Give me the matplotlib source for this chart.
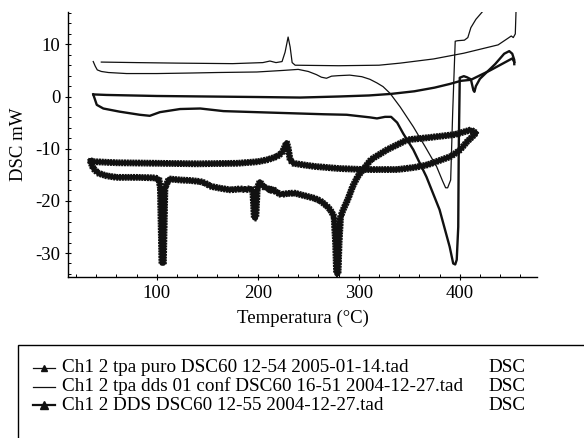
import numpy as np
import matplotlib
matplotlib.use("Agg")
import matplotlib.pyplot as plt
from matplotlib.lines import Line2D
from matplotlib.patches import Rectangle
from matplotlib.ticker import MultipleLocator
import matplotlib.patheffects as pe

plt.rcParams['font.family'] = ['Liberation Serif', 'DejaVu Serif']
plt.rcParams['axes.unicode_minus'] = False

# ---- data: temperature (°C) and DSC signal (mW), each run drawn as two branches ----
# Ch1 2 tpa puro
puro_upper_T = [37, 50, 100, 150, 200, 242, 280, 310, 332, 355, 375, 390, 401, 411, 430, 452, 454]
puro_upper_V = [0.4, 0.3, 0.1, 0.0, -0.1, -0.2, 0.0, 0.2, 0.5, 1.0, 1.7, 2.4, 3.0, 3.2, 5.0, 7.3, 6.6]
puro_lower_T = [37, 40.5, 47, 63, 83, 93, 103, 123, 143, 166, 215, 265, 288, 311, 318, 326, 332,
                338, 344, 354, 367, 380, 390, 393.5, 395.5, 397, 398.5, 399, 400, 404, 407, 411,
                413.5, 414.5, 416, 420, 435, 444, 449, 452, 454, 454]
puro_lower_V = [0.4, -1.6, -2.3, -2.9, -3.5, -3.7, -3.0, -2.4, -2.3, -2.8, -3.1, -3.4, -3.5, -4.0,
                -4.2, -3.9, -3.9, -5.0, -7.1, -10.2, -15.4, -21.7, -28.8, -32.0, -32.2, -31.3,
                -25.0, -10.0, 3.6, 3.9, 3.7, 3.3, 1.2, 0.9, 2.0, 3.4, 6.2, 8.2, 8.7, 8.2, 7.0, 6.2]

# Ch1 2 tpa dds 01 conf
conf_upper_T = [45, 80, 120, 175, 205, 212, 218, 224, 227, 230, 232, 234, 237, 280, 320, 341,
                374, 404, 438, 448, 451, 453, 455, 456]
conf_upper_V = [6.6, 6.5, 6.4, 6.3, 6.5, 6.8, 6.5, 6.7, 8.5, 11.4, 9.5, 6.5, 6.0, 5.9, 6.0, 6.4,
                7.2, 8.3, 9.9, 11.2, 11.6, 11.3, 12.0, 18.0]
conf_lower_T = [37, 39, 41, 45, 52, 70, 100, 133, 160, 199, 225, 240, 250, 258, 263, 268, 273,
                280, 291, 303, 311, 318, 324, 331, 341, 354, 366, 377, 383, 386, 388, 390, 391,
                393, 395.5, 398, 404.6, 408, 411, 416, 424, 430]
conf_lower_V = [6.7, 5.8, 5.1, 4.8, 4.6, 4.4, 4.4, 4.5, 4.6, 4.7, 5.0, 5.2, 4.8, 4.2, 3.7, 3.5,
                3.9, 4.0, 4.1, 3.8, 3.3, 2.6, 1.9, 0.6, -2.0, -5.8, -9.7, -13.4, -16.2, -17.5,
                -17.5, -16.5, -16.0, -3.0, 10.6, 10.7, 10.8, 11.3, 13.2, 14.8, 16.6, 18.5]

# Ch1 2 DDS
dds_upper_T = [34, 38, 60, 100, 140, 180, 200, 210, 219, 224, 227, 228.5, 230, 232, 235, 245,
               256, 280, 305, 338, 355, 368, 391, 400, 407, 413, 416]
dds_upper_V = [-12.3, -12.5, -12.7, -12.8, -12.9, -12.8, -12.5, -12.1, -11.5, -10.8, -9.5, -8.8,
               -9.8, -12.2, -12.8, -13.1, -13.4, -13.8, -14.0, -14.0, -13.6, -13.1, -11.5, -10.3,
               -8.7, -7.6, -7.0]
dds_lower_T = [416, 411, 395, 368, 348, 328, 312, 299, 294, 289, 285, 282, 280.5, 279.5, 278,
               277, 275.5, 272, 269, 262, 256, 246, 236, 229, 223, 218, 215, 213, 211, 208, 205,
               202, 201, 199.5, 198, 196.5, 195, 193, 188, 183, 173, 163, 153, 148, 143, 133,
               123, 112, 108, 106.5, 105, 103.5, 102, 98, 80, 60, 50, 42, 37, 34]
dds_lower_V = [-7.0, -6.4, -7.3, -7.9, -8.3, -10.2, -12.1, -15.3, -17.2, -19.8, -21.5, -23.0,
               -28.0, -34.0, -34.0, -28.0, -23.0, -21.8, -21.1, -20.0, -19.5, -19.0, -18.5,
               -18.6, -18.8, -18.3, -17.7, -18.2, -17.5, -17.6, -17.2, -16.3, -16.8, -17.5,
               -23.3, -23.3, -18.0, -17.6, -17.9, -17.7, -17.9, -17.6, -17.2, -16.6, -16.3,
               -16.1, -16.0, -15.8, -17.5, -32.0, -32.0, -17.5, -15.8, -15.6, -15.5, -15.5,
               -15.2, -14.7, -13.8, -12.3]

legend_labels = ["Ch1 2 tpa puro DSC60 12-54 2005-01-14.tad",
                 "Ch1 2 tpa dds 01 conf DSC60 16-51 2004-12-27.tad",
                 "Ch1 2 DDS DSC60 12-55 2004-12-27.tad"]
legend_unit = "DSC"

W, H = 584, 438
fig = plt.figure(figsize=(W / 100, H / 100), dpi=100)
ax = fig.add_axes([68 / W, 1 - 277 / H, (537 - 68) / W, (277 - 12) / H])

ink = '#111111'
# heavy trace: solid core with short bristles that stand in for the stacked point markers
tick_bold = [pe.Stroke(linewidth=3.4, foreground=ink),
             pe.TickedStroke(spacing=2.0, angle=90, length=0.85, linewidth=1.5, foreground=ink),
             pe.TickedStroke(spacing=2.0, angle=-90, length=0.85, linewidth=1.5, foreground=ink)]

for T, V in [(conf_upper_T, conf_upper_V), (conf_lower_T, conf_lower_V)]:
    ax.plot(T, V, color=ink, lw=0.9, solid_joinstyle='round')
for T, V in [(puro_upper_T, puro_upper_V), (puro_lower_T, puro_lower_V)]:
    ax.plot(T, V, color=ink, lw=1.7, solid_joinstyle='round')
for T, V in [(dds_upper_T, dds_upper_V), (dds_lower_T, dds_lower_V)]:
    ax.plot(T, V, color=ink, lw=3.4, path_effects=tick_bold)

ax.set_xlim(12, 476.5)
ax.set_ylim(-34.6, 16.2)
for s in ['top', 'right']:
    ax.spines[s].set_visible(False)
for s in ['left', 'bottom']:
    ax.spines[s].set_linewidth(1.0)
ax.xaxis.set_major_locator(MultipleLocator(100))
ax.xaxis.set_minor_locator(MultipleLocator(20))
ax.yaxis.set_major_locator(MultipleLocator(10))
ax.yaxis.set_minor_locator(MultipleLocator(2))
ax.tick_params(axis='both', which='major', direction='inout', length=5, width=0.8,
               labelsize=13.5, pad=3)
ax.tick_params(axis='both', which='minor', direction='in', length=2.5, width=0.7)
ax.set_xlabel("Temperatura (°C)", fontsize=13.5, labelpad=6)
ax.set_ylabel("DSC mW", fontsize=13.5, labelpad=6)

# legend panel
fig.patches.append(Rectangle((17.5 / W, -0.1), 1.0, (1 - 345 / H) + 0.1,
                             transform=fig.transFigure, fill=False, ec='black', lw=1.0))
rows_y = [368, 386.5, 405]
styles = [dict(lw=0.9, ms=4.5, marker='^'), dict(lw=0.9, ms=0, marker=None),
          dict(lw=1.6, ms=6, marker='^')]
for y, lab, st in zip(rows_y, legend_labels, styles):
    yf = 1 - y / H
    fig.add_artist(Line2D([33 / W, 44 / W, 55 / W], [yf, yf, yf], transform=fig.transFigure,
                          color=ink, lw=st['lw'], marker=st['marker'], ms=st['ms'],
                          markevery=[1]))
    fig.text(62 / W, yf, lab, fontsize=13.8, va='center', ha='left')
    fig.text(488 / W, yf, legend_unit, fontsize=13.8, va='center', ha='left')

fig.savefig("out.png", dpi=100)
